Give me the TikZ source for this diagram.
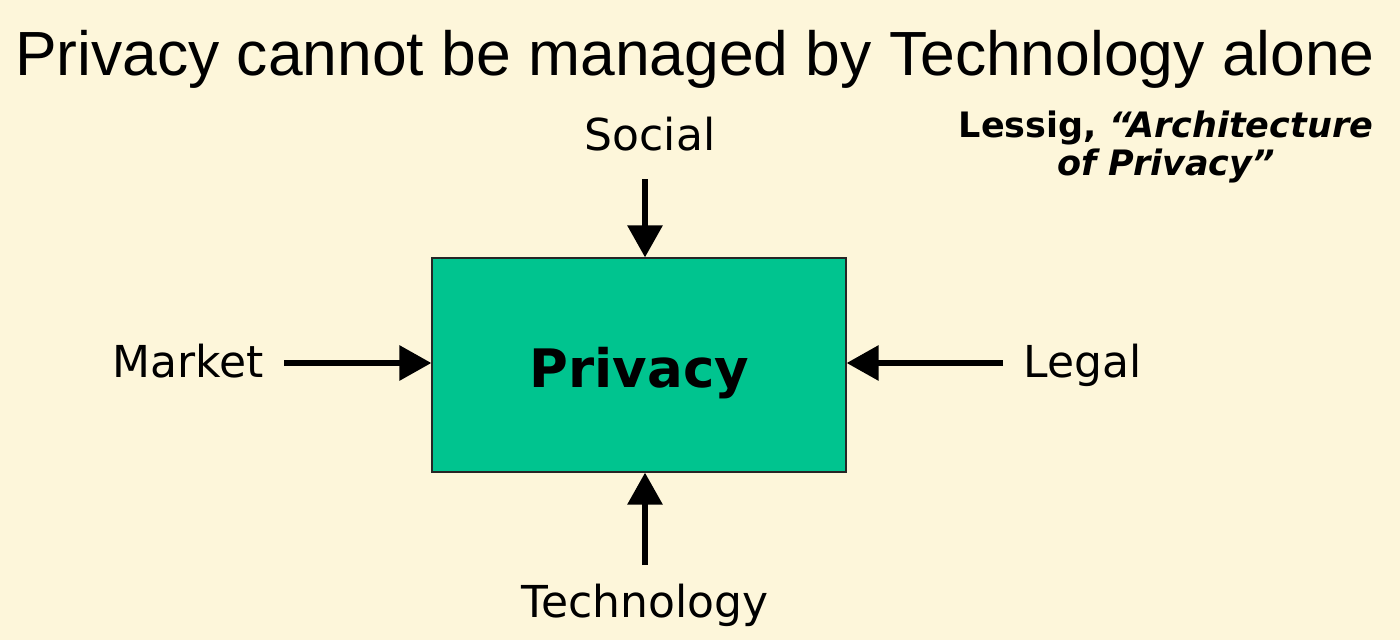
\documentclass[tikz,border=0pt]{standalone}
\usepackage{fontspec}
\setmainfont{DejaVu Sans}
\newfontfamily\titlefont{Liberation Sans}
\usetikzlibrary{arrows.meta}
\definecolor{paper}{RGB}{253,246,218}
\definecolor{boxgreen}{RGB}{0,196,143}
\tikzset{
  lbl/.style={anchor=base,font=\fontsize{44}{54}\selectfont},
  push/.style={line width=6pt,-{Triangle[width=34pt,length=32pt]}},
}
\begin{document}
\begin{tikzpicture}[x=1pt,y=-1pt]
   \fill[paper] (0,0) rectangle (1400,640);
   \useasboundingbox (0,0) rectangle (1400,640);
   \node[anchor=base,font=\titlefont\fontsize{62.4}{72}\selectfont] (title) at (695,75) {Privacy cannot be managed by Technology alone};
   \node[anchor=base,align=center,font=\bfseries\fontsize{35}{38}\selectfont] (cite) at (1166,175) {Lessig, \textit{``Architecture}\\ \textit{of Privacy''}};
   \node[draw=black!85,line width=1.2pt,fill=boxgreen,minimum width=414pt,minimum height=214pt] (priv) at (639,365) {};
   \node[anchor=base,font=\bfseries\fontsize{53}{66}\selectfont] at (639.5,387) {Privacy};
   \node[lbl] (social) at (650,150) {Social};
   \node[lbl,anchor=base east] (market) at (267,377) {Market};
   \node[lbl,anchor=base west] (legal) at (1020,377) {Legal};
   \node[lbl] (tech) at (645,617) {Technology};
   \coordinate (s0) at (645,179);
   \coordinate (m0) at (284,363);
   \coordinate (l0) at (1003,363);
   \coordinate (t0) at (645,565);
   \draw[push] (s0) -- (s0 |- priv.north);
   \draw[push] (m0) -- (m0 -| priv.west);
   \draw[push] (l0) -- (l0 -| priv.east);
   \draw[push] (t0) -- (t0 |- priv.south);
\end{tikzpicture}
\end{document}
